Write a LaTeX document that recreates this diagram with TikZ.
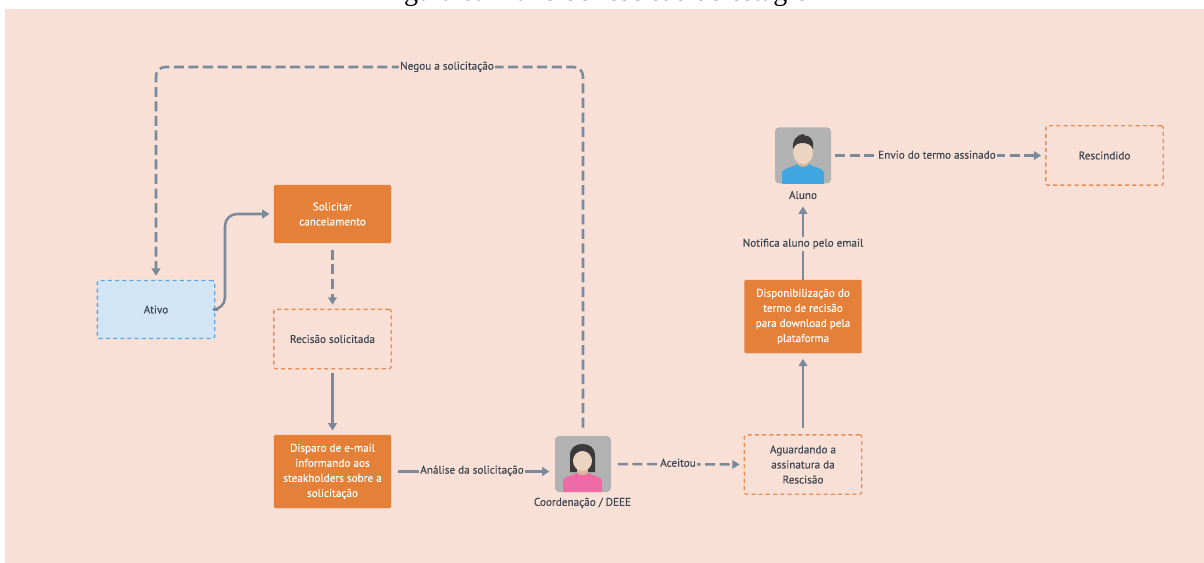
\documentclass[tikz,border=0pt]{standalone}
\usepackage{fontspec}
\setmainfont{PT Sans}[FakeBold=0.25]
\newfontfamily\captionfont{Liberation Serif}
\usetikzlibrary{arrows.meta,shadows}
\definecolor{peach}{HTML}{F9E0D7}
\definecolor{laranja}{HTML}{E58038}
\definecolor{azul}{HTML}{D2E5F5}
\definecolor{azulborda}{HTML}{5BA7EA}
\definecolor{seta}{HTML}{7B8A9A}
\definecolor{texto}{HTML}{3E4650}
\definecolor{cinza}{HTML}{B2B2B2}
\definecolor{pele}{HTML}{EBD5C0}
\definecolor{pescoco}{HTML}{D9B99B}
\definecolor{cabelo}{HTML}{3A3A3C}
\definecolor{rosa}{HTML}{EE6AA7}
\definecolor{camisa}{HTML}{3FA6DF}
\tikzset{
  every node/.style={font=\fontsize{8.4pt}{11.3pt}\selectfont,text=texto,align=center},
  acao/.style={fill=laranja,rounded corners=1pt,text=white,minimum width=88pt,drop shadow={opacity=0.12,shadow xshift=0pt,shadow yshift=-0.7pt}},
  estado/.style={draw=laranja!85!peach,line width=1pt,dash pattern=on 3pt off 2.4pt,rounded corners=1.5pt,minimum width=88pt},
  ativo/.style={estado,draw=azulborda,fill=azul},
  avatar/.style={fill=cinza,rounded corners=3pt,minimum size=42pt,inner sep=0pt},
  seg/.style={draw=seta,line width=1.9pt,-{Triangle[length=5.5pt,width=6.5pt]}},
  tra/.style={seg,dash pattern=on 7.5pt off 3.4pt},
  rotulo/.style={fill=peach,inner xsep=1pt,inner ysep=1pt,text height=6pt,text depth=2pt},
}
\begin{document}
\begin{tikzpicture}[x=0.75pt,y=-0.75pt]
  \useasboundingbox (0,0) rectangle (1204,563);
  \fill[peach] (5,9) rectangle (1204,563);
  \node[anchor=base,font=\captionfont\fontsize{21pt}{21pt}\selectfont,text=black] (legenda) at (595,0.5) {Figura 6: Fluxo de rescisão do estágio};
  % estados e acoes
  \node[ativo,minimum height=43.5pt] (ativo) at (156,309.5) {Ativo};
  \node[acao,minimum height=43.5pt] (solicitar) at (332.5,214) {Solicitar\\cancelamento};
  \node[estado,minimum height=44.5pt] (solicitada) at (332.5,339) {Recisão solicitada};
  \node[acao,minimum height=55pt] (disparo) at (332.5,471.5) {Disparo de e-mail\\informando aos\\steakholders sobre a\\solicitação};
  \node[avatar] (coord) at (583,464) {};
  \node (coordlabel) at (582.5,503) {Coordenação / DEEE};
  \node[estado,minimum height=44.5pt] (aguardando) at (803,464.5) {Aguardando a\\assinatura da\\Rescisão};
  \node[acao,minimum height=55pt] (termo) at (803,316.5) {Disponibilização do\\termo de recisão\\para download pela\\plataforma};
  \node[avatar] (aluno) at (803,155.5) {};
  \node (alunolabel) at (803,195) {Aluno};
  \node[estado,minimum height=44.5pt] (rescindido) at (1104.5,155.5) {Rescindido};
  % pessoa: coordenacao
  \fill[cabelo] (570,472) -- (570,456) .. controls (570,447) and (576,444) .. (582.5,444) .. controls (589,444) and (595,447) .. (595,456) -- (595,472) -- cycle;
  \fill[pescoco] (577,465) rectangle (588,477);
  \fill[pele] (582.5,461) ellipse (9.5 and 10);
  \fill[rosa] (563,492) -- (563,480) .. controls (566,476) and (572,476) .. (577,473) .. controls (580,476) and (585,476) .. (588,473) .. controls (593,476) and (599,476) .. (602,480) -- (602,492) -- cycle;
  % pessoa: aluno
  \fill[pescoco] (797,155) rectangle (809,168);
  \fill[pele] (803,153) ellipse (10 and 11);
  \fill[cabelo] (793,149) .. controls (792,140) and (797,135) .. (803,134) .. controls (804,136) and (806,136) .. (808,136) .. controls (812,138) and (814,142) .. (813,149) .. controls (811,144) and (806,143) .. (803,143) .. controls (799,143) and (795,144) .. (793,149) -- cycle;
  \fill[camisa] (782,184) -- (782,172) .. controls (785,167) and (792,168) .. (797,164) .. controls (800,168) and (806,168) .. (809,164) .. controls (814,168) and (821,167) .. (824,172) -- (824,184) -- cycle;
  % conexoes
  \draw[tra,rounded corners=7pt,shorten >=3pt,shorten <=6pt] (coord.north) -- (coord.north |- 0,67) -- (ativo.north |- 0,67) -- (ativo.north);
  \node[rotulo] (negou) at (447,67) {Negou a solicitação};
  \draw[seg,rounded corners=9pt,shorten >=3pt] ([xshift=2pt]ativo.east) -- ++(7,0) |- (solicitar.west);
  \draw[tra,shorten >=3pt,shorten <=5pt] (solicitar.south) -- (solicitada.north);
  \draw[seg,shorten >=3pt,shorten <=3pt] (solicitada.south) -- (disparo.north);
  \draw[seg,shorten >=4pt,shorten <=5pt] (disparo.east) -- (disparo -| coord.west);
  \node[rotulo] (analise) at (472,471) {Análise da solicitação};
  \draw[tra,shorten >=3pt,shorten <=5pt] (coord.east) -- (aguardando.west);
  \node[rotulo] (aceitou) at (678,464) {Aceitou};
  \draw[seg,shorten >=4pt,shorten <=5pt] (aguardando.north) -- (termo.south);
  \draw[seg,shorten >=2pt] (termo.north) -- (alunolabel.south);
  \node[rotulo] (notifica) at (803,244) {Notifica aluno pelo email};
  \draw[tra,shorten >=3pt,shorten <=3pt] (aluno.east) -- (rescindido.west);
  \node[rotulo] (envio) at (937,156) {Envio do termo assinado};
\end{tikzpicture}
\end{document}
